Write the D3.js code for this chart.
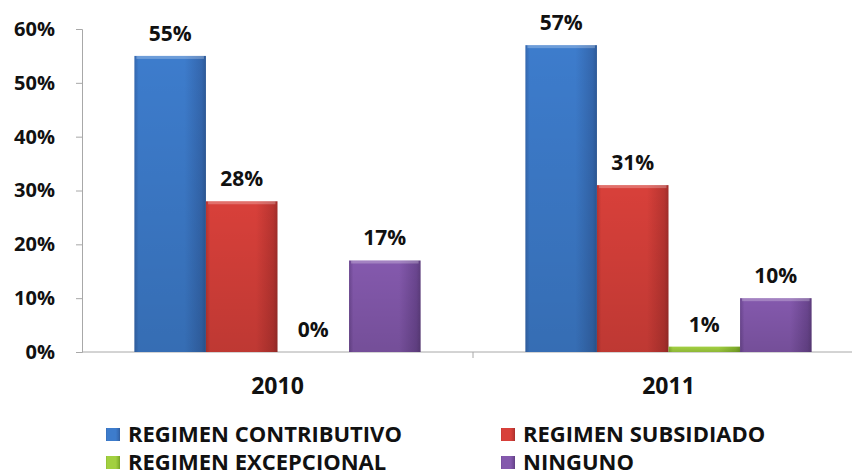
<!DOCTYPE html>
<html><head><meta charset="utf-8">
<script src="https://cdn.jsdelivr.net/npm/d3@7"></script>
<style>body{margin:0;background:#fff}svg{display:block}</style>
</head><body>
<script>
const years = ["2010", "2011"];
const seriesNames = ["REGIMEN CONTRIBUTIVO", "REGIMEN SUBSIDIADO", "REGIMEN EXCEPCIONAL", "NINGUNO"];
const contributivo = [55, 57];
const subsidiado = [28, 31];
const excepcional = [0, 1];
const ninguno = [17, 10];
const yTicks = [0, 10, 20, 30, 40, 50, 60];
const colors = ["#3d7ccc", "#d8403a", "#a2d040", "#8459ad"];
const darkColors = ["#3467ae", "#b83430", "#82b02c", "#6b4690"];

const series = [contributivo, subsidiado, excepcional, ninguno];
const W = 852, H = 475;
const svg = d3.select("body").append("svg").attr("width", W).attr("height", H);
const font = "'Open Sans', sans-serif";

const defs = svg.append("defs");
colors.forEach((c, i) => {
  const g = defs.append("linearGradient").attr("id", "g" + i).attr("x1", 0).attr("x2", 1).attr("y1", 0).attr("y2", 0);
  g.append("stop").attr("offset", "0%").attr("stop-color", darkColors[i]);
  g.append("stop").attr("offset", "6%").attr("stop-color", c);
  g.append("stop").attr("offset", "70%").attr("stop-color", c);
  g.append("stop").attr("offset", "94%").attr("stop-color", darkColors[i]);
  g.append("stop").attr("offset", "100%").attr("stop-color", d3.color(darkColors[i]).darker(0.4));
});
const shade = defs.append("linearGradient").attr("id", "shade").attr("x1", 0).attr("x2", 0).attr("y1", 0).attr("y2", 1);
shade.append("stop").attr("offset", "0%").attr("stop-color", "#000").attr("stop-opacity", 0);
shade.append("stop").attr("offset", "100%").attr("stop-color", "#000").attr("stop-opacity", 0.12);

const x = d3.scaleBand().domain(years).range([82, 864]).paddingInner(0.268).paddingOuter(0.134);
const x1 = d3.scaleBand().domain(d3.range(seriesNames.length)).range([0, x.bandwidth()]);
const y = d3.scaleLinear().domain([0, 60]).range([352, 29]);

// y axis
const yAxis = svg.append("g").attr("transform", "translate(82,0)")
  .call(d3.axisLeft(y).tickValues(yTicks).tickFormat(d => d + "%").tickSize(6).tickPadding(21));
yAxis.select(".domain").attr("stroke", "#a8a8a8");
yAxis.selectAll(".tick line").attr("stroke", "#a8a8a8");
yAxis.selectAll(".tick text").attr("font-family", font).attr("font-weight", "bold")
  .attr("font-size", 20).attr("fill", "#111");

// x axis
const xAxisG = svg.append("g").attr("transform", "translate(0,352)");
xAxisG.append("line").attr("x1", 82).attr("x2", W).attr("stroke", "#a8a8a8");
const dividers = [(x("2010") + x.bandwidth() + x("2011")) / 2];
xAxisG.selectAll(".div").data(dividers).join("line")
  .attr("x1", d => d).attr("x2", d => d).attr("y1", 0).attr("y2", 6).attr("stroke", "#a8a8a8");
xAxisG.selectAll("text").data(years).join("text")
  .attr("x", d => x(d) + x.bandwidth() / 2).attr("y", 42)
  .attr("text-anchor", "middle").attr("font-family", font).attr("font-weight", "bold")
  .attr("font-size", 23).attr("fill", "#111").text(d => d);

// bars
series.forEach((vals, si) => {
  const g = svg.append("g");
  const bx = (d, i) => x(years[i]) + x1(si);
  g.selectAll("rect.bar").data(vals).join("rect").attr("class", "bar")
    .attr("x", bx).attr("width", x1.bandwidth())
    .attr("y", d => y(d)).attr("height", d => y(0) - y(d))
    .attr("fill", `url(#g${si})`);
  g.selectAll("rect.sh").data(vals).join("rect").attr("class", "sh")
    .attr("x", bx).attr("width", x1.bandwidth())
    .attr("y", d => y(d)).attr("height", d => y(0) - y(d))
    .attr("fill", "url(#shade)");
  g.selectAll("rect.top").data(vals.filter(v => v > 2)).join("rect").attr("class", "top")
    .attr("x", (d) => bx(d, vals.indexOf(d)) + 2).attr("width", x1.bandwidth() - 4)
    .attr("y", d => y(d)).attr("height", 3)
    .attr("fill", "#fff").attr("opacity", 0.25);
  g.selectAll("text").data(vals).join("text")
    .attr("x", (d, i) => bx(d, i) + x1.bandwidth() / 2)
    .attr("y", d => y(d) - 15)
    .attr("text-anchor", "middle").attr("font-family", font).attr("font-weight", "bold")
    .attr("font-size", 21).attr("fill", "#111").text(d => d + "%");
});

// legend
const legendPos = [[106, 442], [501, 442], [106, 470], [501, 470]];
const lg = svg.append("g");
seriesNames.forEach((n, i) => {
  const [lx, ly] = legendPos[i];
  lg.append("rect").attr("x", lx).attr("y", ly - 14).attr("width", 14).attr("height", 13)
    .attr("fill", `url(#g${i})`);
  lg.append("text").attr("x", lx + 22).attr("y", ly)
    .attr("font-family", font).attr("font-weight", "bold").attr("font-size", 22)
    .attr("fill", "#111").text(n);
});
</script>
</body></html>
